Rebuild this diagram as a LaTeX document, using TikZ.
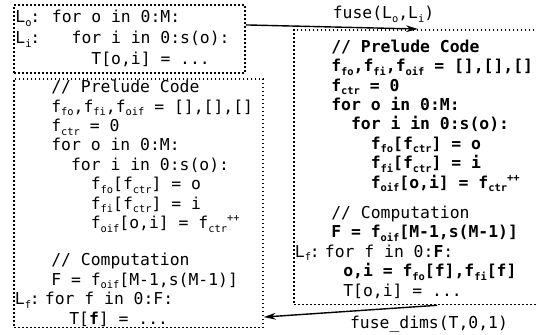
\documentclass[tikz,border=0pt]{standalone}
\usepackage{fontspec}
\setmonofont{DejaVu Sans Mono}
\usetikzlibrary{positioning,arrows.meta,calc}

\newlength{\codecolwd}
\setlength{\codecolwd}{18.2pt}
\newcommand{\codefont}[1][9.7]{\ttfamily\fontsize{8.2}{#1}\selectfont\lineskiplimit=-20pt}
\newcommand{\fsub}[1]{\raisebox{-0.22em}{\fontsize{5.2}{5}\selectfont #1}}
\newcommand{\fsup}[1]{\raisebox{0.42em}{\fontsize{5.2}{5}\selectfont #1}}
\newcommand{\looplab}[2][\codecolwd]{\makebox[#1][l]{L\fsub{#2}\hspace{-0.6pt}:}}
\newcommand{\codecol}{\hspace*{\codecolwd}}
\newcommand{\codeind}{\hphantom{xx}}

\begin{document}
\begin{tikzpicture}[x=0.5pt, y=-0.5pt,
    code/.style={draw, line width=0.9pt, dash pattern=on 0.9pt off 1.1pt, anchor=north west,
                 align=left, inner ysep=1.6pt, font=\codefont,
                 execute at begin node={\spaceskip=0pt\xspaceskip=0pt}},
    arrow/.style={-{Stealth[length=6pt,width=3.4pt]}, line width=0.7pt},
    clabel/.style={font=\codefont, inner sep=0pt}
]
\path[use as bounding box, clip] (0,0) rectangle (536,334);

\node[code, font={\codefont[10.5]}, inner xsep=0.8pt, inner ysep=2.8pt, text width=113.9pt] (loops) at (13,4) {%
  \looplab{o}for o in 0:M:\\
  \looplab{i}\codeind for i in 0:s(o):\\
  \codecol\codeind\codeind T[o,i] = ...};

\node[code, inner xsep=0.5pt, inner ysep=3pt, text width=132.5pt] (flat) at (293,29) {%
  \codecol\rule{0pt}{8.2pt}\textbf{// Prelude Code}\\
  \codecol\textbf{f\fsub{fo},f\fsub{fi},f\fsub{oif} = [],[],[]}\\
  \codecol\textbf{f\fsub{ctr} = 0}\\
  \codecol\textbf{for o in 0:M:}\\
  \codecol\codeind\textbf{for i in 0:s(o):}\\
  \codecol\codeind\codeind\textbf{f\fsub{fo}[f\fsub{ctr}] = o}\\
  \codecol\codeind\codeind\textbf{f\fsub{fi}[f\fsub{ctr}] = i}\\
  \codecol\codeind\codeind\textbf{f\fsub{oif}[o,i] = f\fsub{ctr}\fsup{++}}\\[5.5pt]
  \codecol// Computation\\
  \codecol\textbf{F = f\fsub{oif}[M-1,s(M-1)]}\\
  \looplab[15pt]{f}for f in 0:\textbf{F}:\\
  \codecol\hspace*{6pt}\textbf{o,i = f\fsub{fo}[f],f\fsub{fi}[f]}\\
  \codecol\hspace*{6pt}T[o,i] = ...};

\node[code, inner xsep=0.5pt, inner ysep=0.6pt, text width=123.5pt] (fused) at (13,78) {%
  \codecol// Prelude Code\\
  \codecol f\fsub{fo},f\fsub{fi},f\fsub{oif} = [],[],[]\\
  \codecol f\fsub{ctr} = 0\\
  \codecol for o in 0:M:\\
  \codecol\codeind for i in 0:s(o):\\
  \codecol\codeind\codeind f\fsub{fo}[f\fsub{ctr}] = o\\
  \codecol\codeind\codeind f\fsub{fi}[f\fsub{ctr}] = i\\
  \codecol\codeind\codeind f\fsub{oif}[o,i] = f\fsub{ctr}\fsup{++}\\[9pt]
  \codecol// Computation\\
  \codecol F = f\fsub{oif}[M-1,s(M-1)]\\
  \looplab[15pt]{f}for f in 0:F:\\
  \codecol\hspace*{9pt}T[\textbf{f}] = ...};

\draw[arrow] ($(loops.north east)!0.3!(loops.south east)$) -- ($(flat.north west)+(125,0)$)
  node[clabel, pos=0.8, above=2.4pt] (fuselbl) {fuse(L\fsub{o},L\fsub{i})};

\coordinate (dimsfrom) at ($(flat.south west)+(144,0)$);
\draw[arrow] (dimsfrom) -- ($(fused.north east)!0.955!(fused.south east)$);
\node[clabel, anchor=north] (dimslbl) at ([xshift=-4pt,yshift=-5pt]dimsfrom) {fuse\_dims(T,0,1)};

\end{tikzpicture}
\end{document}
